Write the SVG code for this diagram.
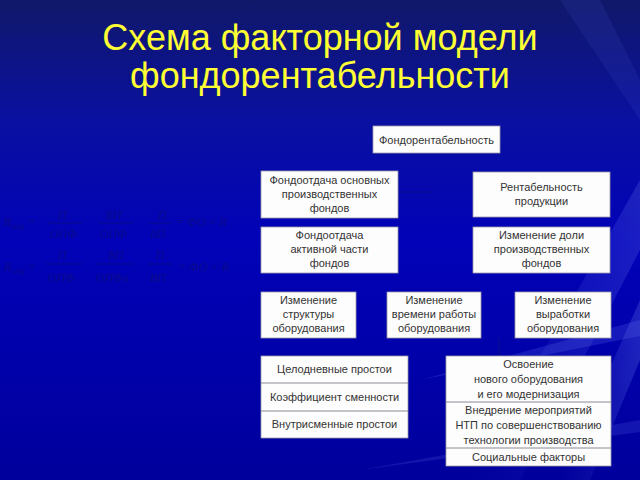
<svg xmlns="http://www.w3.org/2000/svg" width="640" height="480" viewBox="0 0 640 480">
<defs>
<linearGradient id="bg" x1="0" y1="0" x2="0" y2="1">
<stop offset="0" stop-color="#10186a"/>
<stop offset="0.25" stop-color="#0a10a0"/>
<stop offset="0.5" stop-color="#0202b8"/>
<stop offset="1" stop-color="#00009c"/>
</linearGradient>
<linearGradient id="streak" x1="0" y1="0" x2="1" y2="0">
<stop offset="0" stop-color="#6a7cff" stop-opacity="0"/>
<stop offset="1" stop-color="#8aa0ff" stop-opacity="0.35"/>
</linearGradient>
<style>
.box{fill:#fdfdfd;stroke:#9a9aa8;stroke-width:0.8}
.div{stroke:#8a8a96;stroke-width:1}
.t{font-family:"Liberation Sans",Arial,sans-serif;font-size:11px;fill:#333;text-anchor:middle}
.title{font-family:"Liberation Sans",Arial,sans-serif;font-size:36px;fill:#ffff33;text-anchor:middle}
.f{font-family:"Liberation Serif","Times New Roman",serif;font-style:italic;font-size:12px;fill:#0b0b8c}
.fl{stroke:#0b0b8c;stroke-width:1}
.conn{stroke:#1a1a70;stroke-width:1;opacity:0.5}
</style>
</defs>
<rect width="640" height="480" fill="url(#bg)"/>
<path d="M640 180 L470 480 L520 480 L640 250 Z" fill="url(#streak)" opacity="0.5"/>
<path d="M640 300 L560 480 L590 480 L640 360 Z" fill="url(#streak)" opacity="0.6"/>
<path d="M420 380 L640 320 L640 336 Z" fill="#7a8cff" opacity="0.18"/>
<path d="M360 470 L640 420 L640 432 Z" fill="#7a8cff" opacity="0.15"/>
<path d="M560 0 L640 120 L640 80 L600 0 Z" fill="#5060e0" opacity="0.12"/>

<text class="title" x="320" y="50">Схема факторной модели</text>
<text class="title" x="320" y="88">фондорентабельности</text>

<g id="formulas">
<text class="f" x="4" y="226">R<tspan font-size="8" dy="3">опф</tspan><tspan dy="-3"> =</tspan></text>
<text class="f" x="58" y="219">П</text><line class="fl" x1="48" y1="223" x2="82" y2="223"/><text class="f" x="50" y="238">ОПФ</text>
<text class="f" x="106" y="219">ВП</text><line class="fl" x1="98" y1="223" x2="134" y2="223"/><text class="f" x="100" y="238">ОПФ</text>
<text class="f" x="158" y="219">П</text><line class="fl" x1="148" y1="223" x2="172" y2="223"/><text class="f" x="150" y="238">ВП</text>
<text class="f" x="176" y="226">= ФО × R</text>
<text class="f" x="4" y="271">R<tspan font-size="8" dy="3">опф</tspan><tspan dy="-3"> =</tspan></text>
<text class="f" x="58" y="259">П</text><line class="fl" x1="46" y1="264" x2="82" y2="264"/><text class="f" x="48" y="282">ОПФ</text>
<text class="f" x="108" y="259">ВП</text><line class="fl" x1="96" y1="264" x2="134" y2="264"/><text class="f" x="96" y="282">ОПФа</text>
<text class="f" x="156" y="259">П</text><line class="fl" x1="148" y1="264" x2="172" y2="264"/><text class="f" x="150" y="282">ВП</text>
<text class="f" x="178" y="271">= ФО × R</text>
</g>

<g id="connectors">
<line class="conn" x1="398" y1="192" x2="432" y2="192"/>
<line class="conn" x1="499" y1="338" x2="499" y2="356"/>
</g>

<g id="n-root"><rect class="box" x="373" y="126" width="127" height="27"/><text class="t" x="436.5" y="143.5">Фондорентабельность</text></g>

<g id="n-fo"><rect class="box" x="261" y="171" width="137" height="47"/>
<text class="t" x="329.5" y="184">Фондоотдача основных</text><text class="t" x="329.5" y="198">производственных</text><text class="t" x="329.5" y="212">фондов</text></g>

<g id="n-rent"><rect class="box" x="473" y="172" width="137" height="45"/>
<text class="t" x="541.5" y="191">Рентабельность</text><text class="t" x="541.5" y="205">продукции</text></g>

<g id="n-foa"><rect class="box" x="261" y="227" width="137" height="46"/>
<text class="t" x="329.5" y="239">Фондоотдача</text><text class="t" x="329.5" y="253">активной части</text><text class="t" x="329.5" y="267">фондов</text></g>

<g id="n-dolya"><rect class="box" x="473" y="227" width="137" height="46"/>
<text class="t" x="541.5" y="239">Изменение доли</text><text class="t" x="541.5" y="253">производственных</text><text class="t" x="541.5" y="267">фондов</text></g>

<g id="n-struct"><rect class="box" x="261" y="292" width="95" height="46"/>
<text class="t" x="308.5" y="304">Изменение</text><text class="t" x="308.5" y="318">структуры</text><text class="t" x="308.5" y="332">оборудования</text></g>

<g id="n-time"><rect class="box" x="387" y="292" width="94" height="46"/>
<text class="t" x="434" y="304">Изменение</text><text class="t" x="434" y="318">времени работы</text><text class="t" x="434" y="332">оборудования</text></g>

<g id="n-vyr"><rect class="box" x="515" y="292" width="96" height="46"/>
<text class="t" x="563" y="304">Изменение</text><text class="t" x="563" y="318">выработки</text><text class="t" x="563" y="332">оборудования</text></g>

<g id="n-left-stack"><rect class="box" x="261" y="356" width="147" height="82"/>
<line class="div" x1="261" y1="383" x2="408" y2="383"/><line class="div" x1="261" y1="411" x2="408" y2="411"/>
<text class="t" x="334.5" y="373">Целодневные простои</text>
<text class="t" x="334.5" y="401">Коэффициент сменности</text>
<text class="t" x="334.5" y="428">Внутрисменные простои</text></g>

<g id="n-right-stack"><rect class="box" x="446" y="356" width="165" height="110"/>
<line class="div" x1="446" y1="402" x2="611" y2="402"/><line class="div" x1="446" y1="448" x2="611" y2="448"/>
<text class="t" x="528.5" y="368">Освоение</text><text class="t" x="528.5" y="383">нового оборудования</text><text class="t" x="528.5" y="398">и его модернизация</text>
<text class="t" x="528.5" y="414">Внедрение мероприятий</text><text class="t" x="528.5" y="429">НТП по совершенствованию</text><text class="t" x="528.5" y="444">технологии производства</text>
<text class="t" x="528.5" y="461">Социальные факторы</text></g>
</svg>
